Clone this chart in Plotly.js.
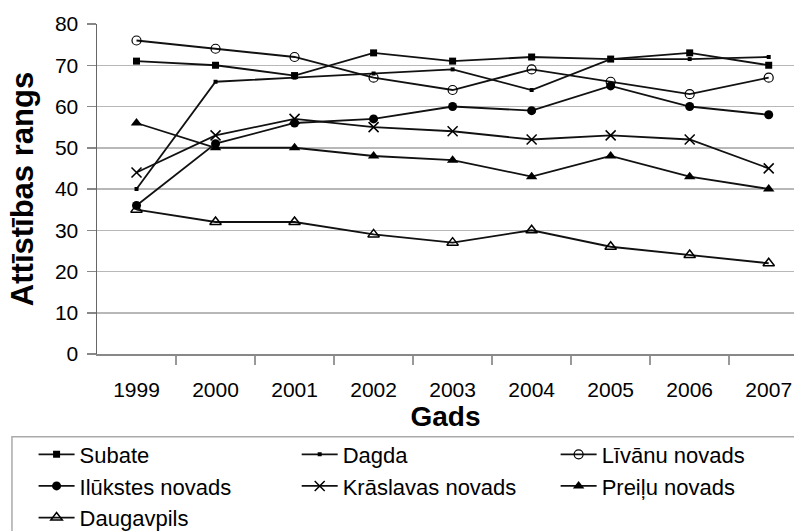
<!DOCTYPE html>
<html>
<head>
<meta charset="utf-8">
<script src="https://cdn.plot.ly/plotly-3.0.1.min.js"></script>
<style>html,body{margin:0;padding:0;background:#fff;}#chart{width:794px;height:531px;}</style>
</head>
<body>
<div id="chart"></div>
<script>
const years = [1999, 2000, 2001, 2002, 2003, 2004, 2005, 2006, 2007];
const subate = [71, 70, 67.5, 73, 71, 72, 71.5, 73, 70];
const dagda = [40, 66, 67, 68, 69, 64, 71.5, 71.5, 72];
const livanu = [76, 74, 72, 67, 64, 69, 66, 63, 67];
const ilukstes = [36, 51, 56, 57, 60, 59, 65, 60, 58];
const kraslavas = [44, 53, 57, 55, 54, 52, 53, 52, 45];
const preilu = [56, 50, 50, 48, 47, 43, 48, 43, 40];
const daugavpils = [35, 32, 32, 29, 27, 30, 26, 24, 22];
const names = ['Subate', 'Dagda', 'Līvānu novads', 'Ilūkstes novads', 'Krāslavas novads', 'Preiļu novads', 'Daugavpils'];
const yTicks = [0, 10, 20, 30, 40, 50, 60, 70, 80];

const series = [subate, dagda, livanu, ilukstes, kraslavas, preilu, daugavpils];
const markers = [
  {symbol: 'square', size: 7, color: '#000'},
  {symbol: 'square', size: 4, color: '#000'},
  {symbol: 'circle-open', size: 9, color: '#000', line: {width: 1.2}},
  {symbol: 'circle', size: 9, color: '#000'},
  {symbol: 'x-thin-open', size: 10, color: '#000', line: {width: 1.5, color: '#000'}},
  {symbol: 'triangle-up', size: 10, color: '#000'},
  {symbol: 'triangle-up-open', size: 10, color: '#000', line: {width: 1.5}}
];
// legend column for each series (reading order: 3 columns)
const legendIds = ['legend', 'legend2', 'legend3', 'legend', 'legend2', 'legend3', 'legend'];

const traces = series.map((s, i) => ({
  x: years, y: s, name: names[i], type: 'scatter', mode: 'lines+markers',
  line: {color: '#111', width: 1.8},
  marker: Object.assign({}, markers[i]),
  legend: legendIds[i],
  cliponaxis: false
}));

const boundaries = years.map(y => y + 0.5);

function legendAt(x) {
  return {
    orientation: 'v', x: x, xanchor: 'left', y: -0.241, yanchor: 'top',
    bgcolor: 'rgba(0,0,0,0)', borderwidth: 0,
    font: {size: 22}, itemwidth: 36, tracegroupgap: 0, traceorder: 'normal'
  };
}

const layout = {
  width: 794, height: 531,
  margin: {l: 97, r: 0, t: 24, b: 177, autoexpand: false},
  paper_bgcolor: '#fff', plot_bgcolor: '#fff',
  font: {family: 'Liberation Sans, Arial, sans-serif', color: '#000', size: 21},
  showlegend: true,
  xaxis: {
    range: [1998.5, 2007.32],
    tickvals: years, ticktext: years.map(String),
    ticks: '', showgrid: false, zeroline: false,
    showline: true, linecolor: '#888', linewidth: 1.5,
    tickfont: {size: 21}, ticklabelstandoff: 16,
    minor: {tickvals: boundaries, ticks: 'outside', ticklen: 9, tickcolor: '#999', tickwidth: 1.5, showgrid: false},
    title: {text: '<b>Gads</b>', font: {size: 28}, standoff: 0}
  },
  yaxis: {
    range: [0, 80], tickvals: yTicks,
    ticks: 'outside', ticklen: 9, tickcolor: '#888', tickwidth: 1.5,
    ticklabelstandoff: 4,
    showgrid: true, gridcolor: '#b8b8b8', gridwidth: 1.5,
    zeroline: false, showline: true, linecolor: '#666', linewidth: 1.5,
    tickfont: {size: 21},
    title: {text: '<b>Attīstības rangs</b>', font: {size: 31}, standoff: 12}
  },
  legend: legendAt(-0.091),
  legend2: legendAt(0.2865),
  legend3: legendAt(0.658),
  shapes: [{
    type: 'rect', xref: 'paper', yref: 'paper',
    x0: -0.122, x1: 1.05, y0: -0.2508, y1: -0.9,
    line: {color: '#aaa', width: 1.5}, fillcolor: 'rgba(0,0,0,0)', layer: 'below'
  }]
};

Plotly.newPlot('chart', traces, layout, {staticPlot: true});
</script>
</body>
</html>
